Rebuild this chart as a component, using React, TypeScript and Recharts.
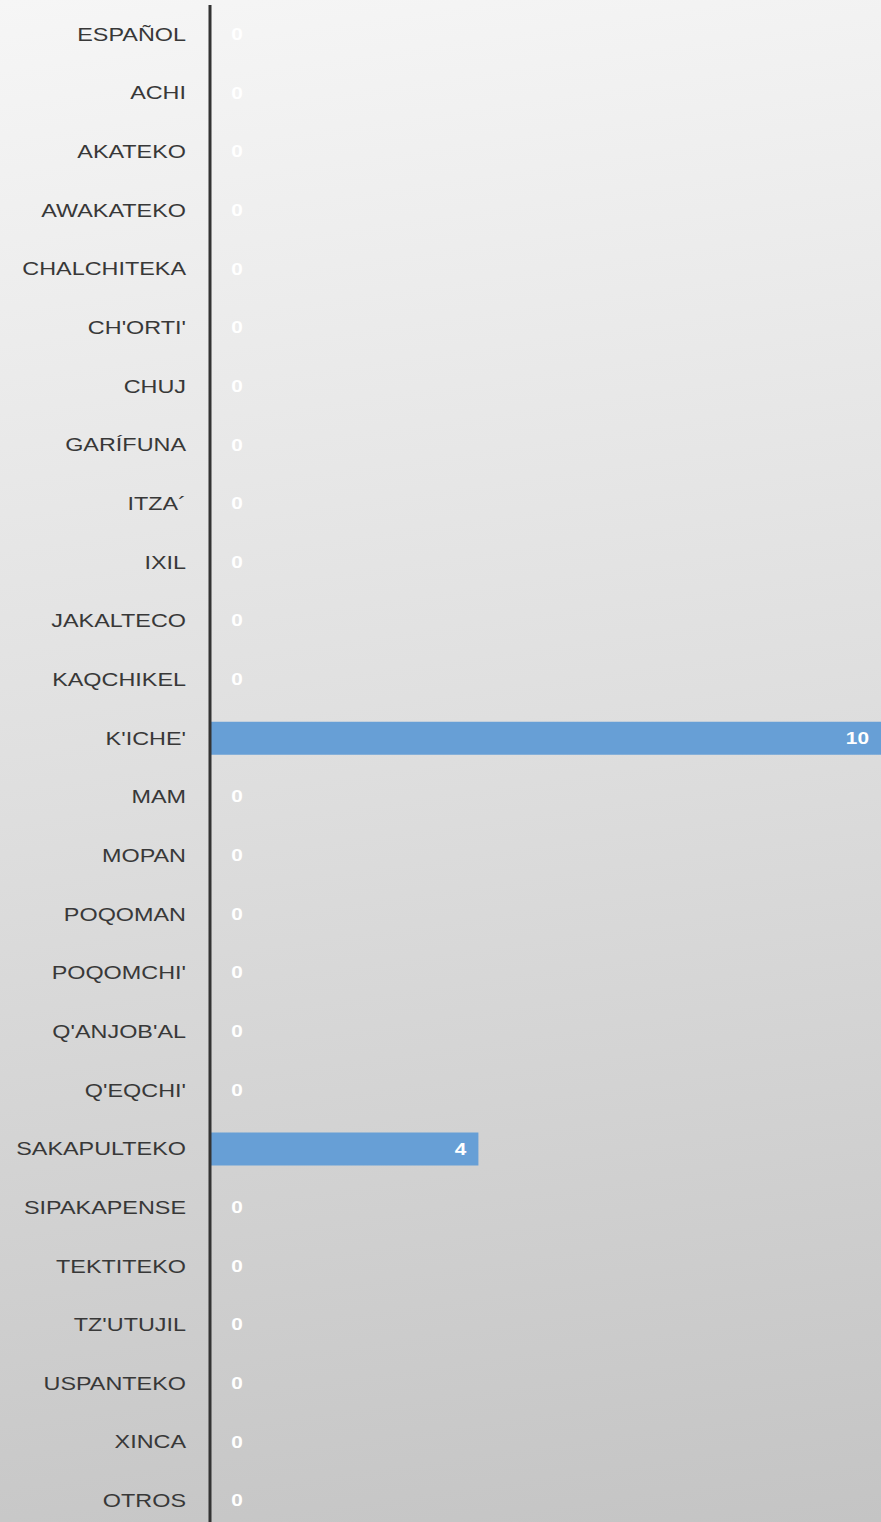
import { BarChart, Bar, XAxis, YAxis, LabelList } from "recharts";

const languages = [
  "ESPAÑOL",
  "ACHI",
  "AKATEKO",
  "AWAKATEKO",
  "CHALCHITEKA",
  "CH'ORTI'",
  "CHUJ",
  "GARÍFUNA",
  "ITZA´",
  "IXIL",
  "JAKALTECO",
  "KAQCHIKEL",
  "K'ICHE'",
  "MAM",
  "MOPAN",
  "POQOMAN",
  "POQOMCHI'",
  "Q'ANJOB'AL",
  "Q'EQCHI'",
  "SAKAPULTEKO",
  "SIPAKAPENSE",
  "TEKTITEKO",
  "TZ'UTUJIL",
  "USPANTEKO",
  "XINCA",
  "OTROS",
];

const counts = [0, 0, 0, 0, 0, 0, 0, 0, 0, 0, 0, 0, 10, 0, 0, 0, 0, 0, 0, 4, 0, 0, 0, 0, 0, 0];

const data = languages.map((name, i) => ({ name, value: counts[i] }));

const FONT = "'Liberation Sans', Arial, sans-serif";
const STRETCH = 1.3;

const valueText = (value: number, anchor: string) => (
  <text
    textAnchor={anchor}
    dominantBaseline="central"
    fontFamily={FONT}
    fontWeight="bold"
    fontSize={16}
    fill="#ffffff"
  >
    {value}
  </text>
);

// language names drawn a bit wide like the original; zero rows get their "0" here
// because recharts skips labels on empty bars
const LangTick = (props: any) => {
  const { x, y, payload, index } = props;
  const v = counts[index];
  return (
    <g>
      <g transform={`translate(${x - 16},${y}) scale(${STRETCH},1)`}>
        <text
          textAnchor="end"
          dominantBaseline="central"
          fontFamily={FONT}
          fontSize={18}
          fill="#383838"
        >
          {payload.value}
        </text>
      </g>
      {v === 0 && (
        <g transform={`translate(${x + 35},${y}) scale(${STRETCH},1)`}>
          {valueText(0, "middle")}
        </g>
      )}
    </g>
  );
};

const ValueLabel = (props: any) => {
  const { x, y, width, height, value } = props;
  if (!value) return null;
  return (
    <g transform={`translate(${x + width - 12},${y + height / 2}) scale(${STRETCH},1)`}>
      {valueText(value, "end")}
    </g>
  );
};

export default function App() {
  return (
    <div
      style={{
        width: 881,
        height: 1522,
        overflow: "hidden",
        background: "linear-gradient(172deg, #f6f6f6 0%, #dedede 50%, #c4c4c4 100%)",
      }}
    >
      <style>{`body{margin:0}`}</style>
      <BarChart
        width={881}
        height={1530}
        data={data}
        layout="vertical"
        margin={{ top: 5, right: 0, bottom: 0, left: 0 }}
      >
        <XAxis type="number" domain={[0, 10]} hide />
        <YAxis
          type="category"
          dataKey="name"
          width={210}
          axisLine={{ stroke: "#333333", strokeWidth: 3 }}
          tickLine={false}
          tick={<LangTick />}
          interval={0}
        />
        <Bar dataKey="value" fill="#679fd6" barSize={33} isAnimationActive={false}>
          <LabelList dataKey="value" content={<ValueLabel />} />
        </Bar>
      </BarChart>
    </div>
  );
}
